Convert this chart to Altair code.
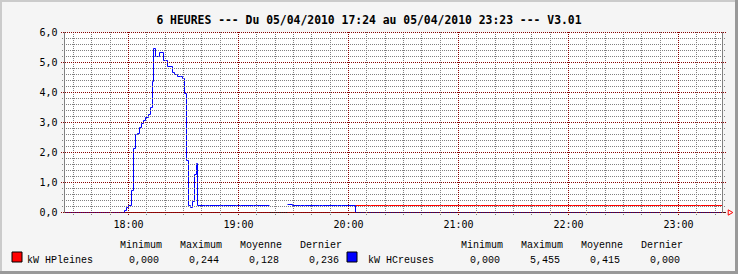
import altair as alt
import pandas as pd

TITLE = "6 HEURES --- Du 05/04/2010 17:24 au 05/04/2010 23:23 --- V3.01"

# x axis: minutes since 17:24
hour_labels = ["18:00", "19:00", "20:00", "21:00", "22:00", "23:00"]
hour_minutes = [36, 96, 156, 216, 276, 336]
y_ticks = [0, 1, 2, 3, 4, 5, 6]

series_names = ["kW HPleines", "kW HCreuses"]
series_colors = ["#FF0000", "#0000FF"]
stat_headers = ["Minimum", "Maximum", "Moyenne", "Dernier"]
stats_hp = ["0,000", "0,244", "0,128", "0,236"]
stats_hc = ["0,000", "5,455", "0,415", "0,000"]

# kW HCreuses (blue) : step start (minutes since 17:24) and value, None = no data
hc_t = [0, 33.7, 34.7, 35.8, 37.4, 38.6, 39.7, 40.7, 41.8, 42.9, 44.0, 45.1, 46.7,
        47.8, 48.9, 49.5, 50.6, 52.7, 54.9, 57.1, 59.8, 60.9, 62.6, 64.2, 65.3,
        66.4, 67.5, 68.6, 69.6, 70.7, 71.8, 72.9, 73.5, 78, 80, 86, 88, 95, 97,
        104, 106, 112.8, 122.6, 125.3, 130, 132, 140, 142, 150, 152, 159.5, 360]
hc_v = [0, 0.08, 0.18, 0.25, 0.73, 2.14, 2.60, 2.63, 2.82, 2.97, 3.08, 3.17, 3.28,
        3.50, 4.38, 5.455, 5.19, 5.33, 5.08, 4.88, 4.67, 4.60, 4.55, 4.52, 4.47,
        3.97, 1.74, 0.22, 0.18, 0.38, 1.28, 1.65, 0.22, 0.24, 0.22, 0.24, 0.22,
        0.24, 0.22, 0.24, 0.22, None, 0.27, 0.22, 0.24, 0.22, 0.24, 0.22, 0.24,
        0.22, 0.0, 0.0]

# kW HPleines (red)
hp_t = [0, 112.8, 122.6, 159.5, 166, 168, 176, 178, 186, 188, 196, 198, 206, 208,
        216, 218, 226, 228, 236, 238, 246, 248, 256, 258, 266, 268, 276, 278, 286,
        288, 296, 298, 306, 308, 316, 318, 326, 328, 336, 338, 346, 348, 356, 360]
hp_v = [0.0, None, 0.0, 0.22, 0.244, 0.22, 0.24, 0.22, 0.24, 0.22, 0.24, 0.22,
        0.24, 0.22, 0.24, 0.22, 0.24, 0.22, 0.24, 0.22, 0.24, 0.22, 0.24, 0.22,
        0.24, 0.22, 0.24, 0.22, 0.24, 0.22, 0.24, 0.22, 0.24, 0.22, 0.24, 0.22,
        0.24, 0.22, 0.24, 0.22, 0.24, 0.22, 0.236, 0.236]


def to_rows(name, ts, vs):
    rows, seg, last = [], 0, None
    for t, v in zip(ts, vs):
        if v is None:
            if last is not None:
                rows.append(dict(series=name, seg=seg, t=t, v=last))
            seg += 1
            last = None
            continue
        rows.append(dict(series=name, seg=seg, t=t, v=v))
        last = v
    return rows


df_hp = pd.DataFrame(to_rows(series_names[0], hp_t, hp_v))
df_hc = pd.DataFrame(to_rows(series_names[1], hc_t, hc_v))

# ---- layout (pixels) ----
OX, OY = 64.5, 32.5          # plot origin in the canvas
W, H = 658, 180
CW, CH = 738, 274

XS = alt.Scale(domain=[1, 360], nice=False, zero=False, round=True)
YS = alt.Scale(domain=[0, 6], nice=False, zero=False, round=True)

MONO = "DejaVu Sans Mono"
LEG = "Liberation Mono"
MINOR = "#808080"
MAJOR = "#8B0000"

one = pd.DataFrame({"a": [0]})

# x axis base line (black) drawn under the data
axis_line = alt.Chart(one).mark_rule(color="#222222", strokeWidth=1).encode(
    x=alt.value(0), x2=alt.value(W + 3), y=alt.value(H))

red = alt.Chart(df_hp).mark_line(interpolate="step-after", strokeWidth=1, clip=True,
                                 color=series_colors[0]).encode(
    x=alt.X("t:Q", scale=XS, axis=None),
    y=alt.Y("v:Q", scale=YS, axis=None),
    detail="seg:N", order="t:Q")

blue = alt.Chart(df_hc).mark_line(interpolate="step-after", strokeWidth=1, clip=True,
                                  color=series_colors[1]).encode(
    x=alt.X("t:Q", scale=XS, axis=None),
    y=alt.Y("v:Q", scale=YS, axis=None),
    detail="seg:N", order="t:Q")

# grids (drawn on top, like rrdtool)
minor_y = pd.DataFrame({"g": [i / 5 for i in range(1, 30) if i % 5]})
major_y = pd.DataFrame({"g": y_ticks})
minor_x = pd.DataFrame({"g": [m for m in range(6, 360, 10) if m not in hour_minutes]})
major_x = pd.DataFrame({"g": hour_minutes})

g_minor_y = alt.Chart(minor_y).mark_rule(color=MINOR, strokeDash=[1, 1], strokeWidth=1).encode(
    y=alt.Y("g:Q", scale=YS, axis=None), x=alt.value(-2.5), x2=alt.value(W + 2.5))
g_minor_x = alt.Chart(minor_x).mark_rule(color=MINOR, strokeDash=[1, 1], strokeWidth=1).encode(
    x=alt.X("g:Q", scale=XS, axis=None), y=alt.value(-0.5), y2=alt.value(H + 2.5))
g_major_y = alt.Chart(major_y).mark_rule(color=MAJOR, strokeDash=[1, 1], strokeWidth=1).encode(
    y=alt.Y("g:Q", scale=YS, axis=None), x=alt.value(-3.5), x2=alt.value(W + 3.5))
g_major_x = alt.Chart(major_x).mark_rule(color=MAJOR, strokeDash=[1, 1], strokeWidth=1).encode(
    x=alt.X("g:Q", scale=XS, axis=None), y=alt.value(-0.5), y2=alt.value(H + 3.5))

left_line = alt.Chart(one).mark_rule(color="#808080", strokeWidth=1).encode(
    x=alt.value(0), y=alt.value(-0.5), y2=alt.value(H + 0.5))
right_line = alt.Chart(one).mark_rule(color="#808080", strokeWidth=1).encode(
    x=alt.value(W), y=alt.value(-0.5), y2=alt.value(H + 0.5))
arrow = alt.Chart(one).mark_point(shape="triangle-right", filled=False, color="#FF0000",
                                  size=28, strokeWidth=1, opacity=1).encode(
    x=alt.value(W + 8), y=alt.value(H))

# axis labels through the scales
ylab_df = pd.DataFrame({"g": y_ticks,
                        "lab": [("%.1f" % v).replace(".", ",") for v in y_ticks]})
xlab_df = pd.DataFrame({"g": hour_minutes, "lab": hour_labels})
ylabels = alt.Chart(ylab_df).mark_text(font=MONO, fontSize=10, align="right",
                                       baseline="middle", color="black").encode(
    y=alt.Y("g:Q", scale=YS, axis=None), x=alt.value(-7), text="lab:N")
xlabels = alt.Chart(xlab_df).mark_text(font=MONO, fontSize=10, align="center",
                                       baseline="alphabetic", color="black").encode(
    x=alt.X("g:Q", scale=XS, axis=None), y=alt.value(H + 15.5), text="lab:N")

title = alt.Chart(one).mark_text(text=TITLE, font=MONO, fontSize=11.4, fontWeight="bold",
                                 align="center", baseline="alphabetic", color="black").encode(
    x=alt.value(369 - OX), y=alt.value(23.5 - OY))

# legend
GROUP_DX = 341
BOX_X = [12, 347]
leg_rows, box_rows = [], []
for i, (name, stats) in enumerate(zip(series_names, [stats_hp, stats_hc])):
    dx = i * GROUP_DX
    box_rows.append(dict(series=name, x1=BOX_X[i] - OX, x2=BOX_X[i] + 10 - OX,
                         y1=252 - OY, y2=262 - OY))
    leg_rows.append(dict(txt=name, px=27 + dx - OX, py=263 - OY, al="left"))
    for j, (hd, st) in enumerate(zip(stat_headers, stats)):
        leg_rows.append(dict(txt=hd, px=162 + 60 * j + dx - OX, py=248 - OY, al="right"))
        leg_rows.append(dict(txt=st, px=159 + 60 * j + dx - OX, py=263 - OY, al="right"))
leg_df = pd.DataFrame(leg_rows)
box_df = pd.DataFrame(box_rows)

leg_left = alt.Chart(leg_df[leg_df.al == "left"]).mark_text(
    font=LEG, fontSize=10, align="left", baseline="alphabetic", color="black").encode(
    x=alt.X("px:Q", scale=None), y=alt.Y("py:Q", scale=None), text="txt:N")
leg_right = alt.Chart(leg_df[leg_df.al == "right"]).mark_text(
    font=LEG, fontSize=10, align="right", baseline="alphabetic", color="black").encode(
    x=alt.X("px:Q", scale=None), y=alt.Y("py:Q", scale=None), text="txt:N")
leg_box = alt.Chart(box_df).mark_rect(stroke="black", strokeWidth=1).encode(
    x=alt.X("x1:Q", scale=None), x2="x2:Q", y=alt.Y("y1:Q", scale=None), y2="y2:Q",
    fill=alt.Fill("series:N", scale=alt.Scale(domain=series_names, range=series_colors),
                  legend=None))

# canvas 3D border
b_top = alt.Chart(one).mark_rule(color="#CBCBCB", strokeWidth=2).encode(
    x=alt.value(-OX), x2=alt.value(CW - OX), y=alt.value(1 - OY))
b_left = alt.Chart(one).mark_rule(color="#CBCBCB", strokeWidth=2).encode(
    x=alt.value(1 - OX), y=alt.value(-OY), y2=alt.value(CH - OY))
b_right = alt.Chart(one).mark_rule(color="#999999", strokeWidth=3).encode(
    x=alt.value(CW - 1.5 - OX), y=alt.value(-OY), y2=alt.value(CH - OY))
b_bottom = alt.Chart(one).mark_rule(color="#999999", strokeWidth=3).encode(
    x=alt.value(-OX), x2=alt.value(CW - OX), y=alt.value(CH - 1.5 - OY))

chart = alt.layer(
    axis_line, red, blue,
    g_minor_y, g_minor_x, g_major_y, g_major_x,
    left_line, right_line, arrow, ylabels, xlabels, title,
    leg_box, leg_left, leg_right,
    b_top, b_left, b_right, b_bottom,
).properties(
    width=W, height=H, autosize="none",
    padding={"left": OX, "top": OY, "right": CW - OX - W, "bottom": CH - OY - H},
).configure(background="#F5F5F5").configure_view(stroke=None, fill="white")

chart.save("out.html", embed_options={"renderer": "svg", "actions": False})
